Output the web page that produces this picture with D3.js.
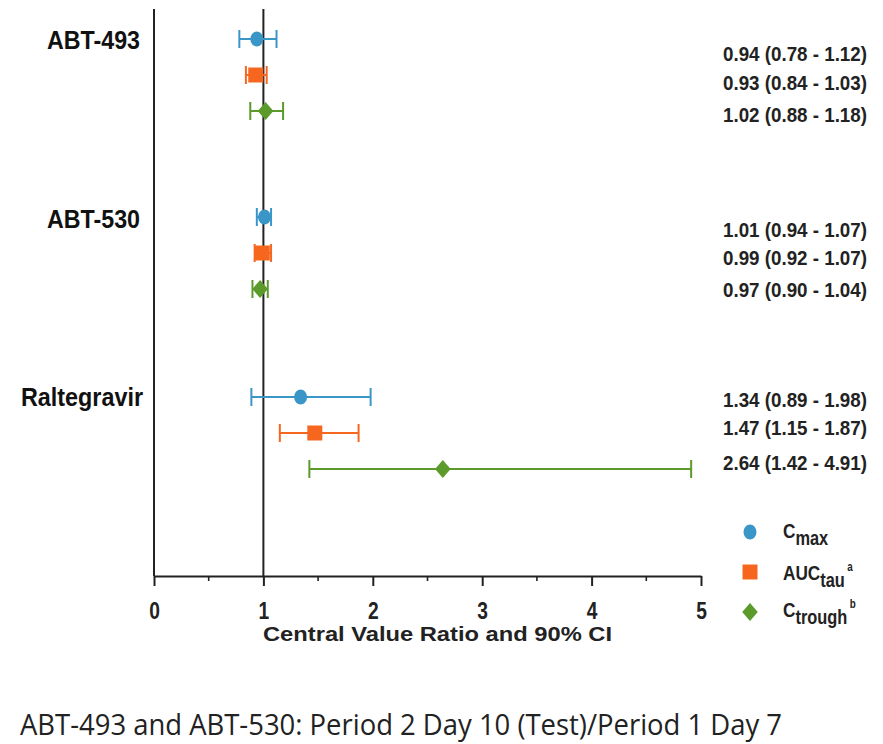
<!DOCTYPE html>
<html>
<head>
<meta charset="utf-8">
<script src="https://cdn.jsdelivr.net/npm/d3@7"></script>
<style>
  body { margin: 0; background: #fff; }
  svg { display: block; }
</style>
</head>
<body>
<svg id="chart" width="883" height="744"></svg>
<script>
// Drugs and the three PK parameters per drug
const drugs = ["ABT-493", "ABT-530", "Raltegravir"];
const params = ["Cmax", "AUCtau", "Ctrough"];
// Central value ratios and 90% CI bounds, per drug (rows) and parameter (columns)
const ratio = [[0.94, 0.93, 1.02], [1.01, 0.99, 0.97], [1.34, 1.47, 2.64]];
const ciLow = [[0.78, 0.84, 0.88], [0.94, 0.92, 0.90], [0.89, 1.15, 1.42]];
const ciHigh = [[1.12, 1.03, 1.18], [1.07, 1.07, 1.04], [1.98, 1.87, 4.91]];
const xTicks = [0, 1, 2, 3, 4, 5];
const colors = ["#3b96c8", "#f7661f", "#5b9a2b"];

const svg = d3.select("#chart");
const boldFont = "'Liberation Sans', Arial, sans-serif";

const x = d3.scaleLinear().domain([0, 5]).range([154, 701]);
// each drug gets a block of three rows
const yRow = (i, j) => [39, 217, 397][i] + j * 36;
const textBase = [[61, 90, 122], [237, 265, 297], [407, 435, 470]];

const rows = [];
drugs.forEach((d, i) => params.forEach((p, j) => rows.push({
  drug: d, param: p, i, j, r: ratio[i][j], lo: ciLow[i][j], hi: ciHigh[i][j]
})));

// axes
const axisY = 576;
svg.append("line").attr("x1", x(0)).attr("x2", x(0)).attr("y1", 9).attr("y2", axisY)
  .attr("stroke", "#222").attr("stroke-width", 2);
svg.append("line").attr("x1", x(1)).attr("x2", x(1)).attr("y1", 9).attr("y2", axisY)
  .attr("stroke", "#222").attr("stroke-width", 2);

const xAxis = d3.axisBottom(x).tickValues(xTicks).tickSize(10).tickSizeOuter(0).tickFormat(d3.format("d"));
const gx = svg.append("g").attr("transform", `translate(0,${axisY})`).call(xAxis);
gx.select(".domain").attr("stroke", "#222").attr("stroke-width", 2);
gx.selectAll(".tick line").attr("stroke", "#222").attr("stroke-width", 2);
gx.selectAll(".tick text").attr("y", null).attr("dy", null)
  .attr("transform", "translate(0,43) scale(0.8,1)")
  .attr("font-family", boldFont).attr("font-weight", "bold")
  .attr("font-size", 24).attr("fill", "#222");
// minor ticks at half units
svg.append("g").selectAll("line").data(d3.range(0.5, 5, 1)).join("line")
  .attr("x1", d => x(d)).attr("x2", d => x(d)).attr("y1", axisY).attr("y2", axisY + 5)
  .attr("stroke", "#222").attr("stroke-width", 1.6);

svg.append("text").attr("x", 263).attr("y", 641)
  .attr("font-family", boldFont).attr("font-weight", "bold").attr("font-size", 21)
  .attr("fill", "#222").attr("textLength", 349).attr("lengthAdjust", "spacingAndGlyphs")
  .text("Central Value Ratio and 90% CI");

// drug labels
const drugLeft = [47, 47, 21];
const drugW = [93, 93, 122];
const drugBase = [49, 228, 406];
svg.append("g").selectAll("text").data(drugs).join("text")
  .attr("x", (d, i) => drugLeft[i]).attr("y", (d, i) => drugBase[i])
  .attr("font-family", boldFont).attr("font-weight", "bold").attr("font-size", 26)
  .attr("fill", "#111").attr("textLength", (d, i) => drugW[i]).attr("lengthAdjust", "spacingAndGlyphs")
  .text(d => d);

// error bars
const g = svg.append("g");
const capH = 9;
rows.forEach(r => {
  const yy = yRow(r.i, r.j);
  const c = colors[r.j];
  g.append("line").attr("x1", x(r.lo)).attr("x2", x(r.hi)).attr("y1", yy).attr("y2", yy)
    .attr("stroke", c).attr("stroke-width", 2);
  [r.lo, r.hi].forEach(v => g.append("line").attr("x1", x(v)).attr("x2", x(v))
    .attr("y1", yy - capH).attr("y2", yy + capH).attr("stroke", c).attr("stroke-width", 2));
});

// markers: slightly tall circle, square, diamond
const symbols = [d3.symbolCircle, d3.symbolSquare, d3.symbolDiamond];
const sizes = [133, 225, 93.5];
const symScale = [" scale(1,1.15)", "", " scale(1.5,1)"];
const symbolPath = (j) => d3.symbol().type(symbols[j]).size(sizes[j])();
g.selectAll("path.pt").data(rows).join("path").attr("class", "pt")
  .attr("transform", d => `translate(${x(d.r)},${yRow(d.i, d.j)})${symScale[d.j]}`)
  .attr("d", d => symbolPath(d.j)).attr("fill", d => colors[d.j]);

// value labels
const fmt = d3.format(".2f");
svg.append("g").selectAll("text").data(rows).join("text")
  .attr("x", 723).attr("y", d => textBase[d.i][d.j])
  .attr("font-family", boldFont).attr("font-weight", "bold").attr("font-size", 20)
  .attr("fill", "#222").attr("textLength", 144).attr("lengthAdjust", "spacingAndGlyphs")
  .text(d => `${fmt(d.r)} (${fmt(d.lo)} - ${fmt(d.hi)})`);

// legend
const legY = [532, 572, 612];
const leg = svg.append("g");
params.forEach((p, j) => {
  leg.append("path").attr("transform", `translate(750,${legY[j]})${symScale[j]}`)
    .attr("d", symbolPath(j)).attr("fill", colors[j]);
});
const legText = [["C", "max", ""], ["AUC", "tau", "a"], ["C", "trough", "b"]];
const legBase = [538, 580, 617];
legText.forEach((t, j) => {
  const tx = leg.append("text")
    .attr("transform", `translate(783,${legBase[j]}) scale(0.82,1)`)
    .attr("font-family", boldFont).attr("font-weight", "bold").attr("font-size", 21).attr("fill", "#222");
  tx.append("tspan").text(t[0]);
  tx.append("tspan").attr("dy", 7).attr("font-size", 20).text(t[1]);
  if (t[2]) tx.append("tspan").attr("dy", -16).attr("dx", 3).attr("font-size", 12).text(t[2]);
});

// caption
svg.append("text").attr("x", 20).attr("y", 735)
  .attr("font-family", "'Open Sans', 'Noto Sans', sans-serif").attr("font-size", 29)
  .attr("fill", "#222").attr("textLength", 762).attr("lengthAdjust", "spacingAndGlyphs")
  .text("ABT-493 and ABT-530:  Period 2 Day 10 (Test)/Period 1 Day 7");
</script>
</body>
</html>
